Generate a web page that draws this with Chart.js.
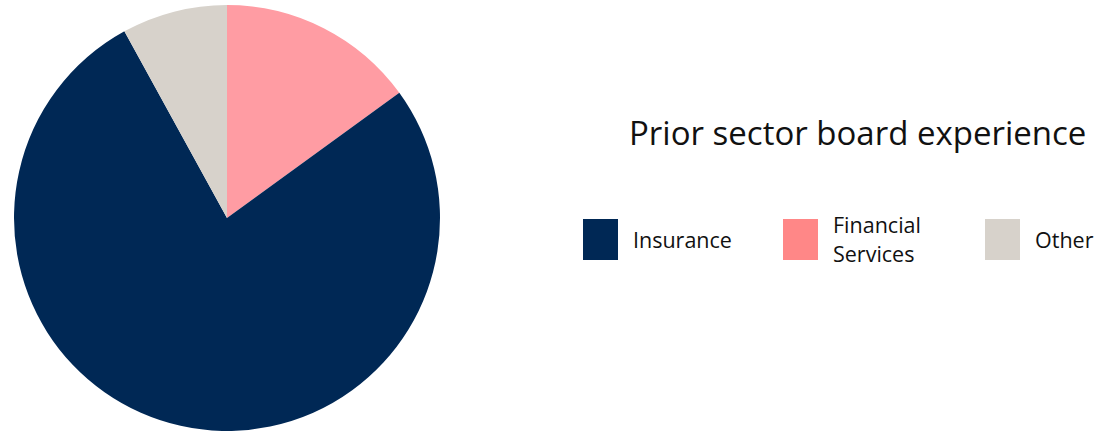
<!DOCTYPE html>
<html>
<head>
<meta charset="utf-8">
<script src="https://cdn.jsdelivr.net/npm/chart.js@4/dist/chart.umd.min.js"></script>
<style>
  html, body { margin: 0; padding: 0; background: #fff; }
  body { width: 1113px; height: 433px; position: relative; overflow: hidden; font-family: "Open Sans", sans-serif; color: #111; }
  #pieBox { position: absolute; left: 0; top: 5px; width: 454px; height: 426px; }
  #titulo { position: absolute; left: 629px; top: 111px; font-size: 33px; line-height: 44px; white-space: nowrap; }
  .item { position: absolute; top: 219px; height: 41px; display: flex; align-items: center; }
  .caixa { width: 35px; height: 41px; margin-right: 15px; flex: none; }
  .texto { font-size: 21.5px; line-height: 29px; margin-top: -1px; }
</style>
</head>
<body>
<div id="pieBox"><canvas id="grafico"></canvas></div>
<div id="titulo">Prior sector board experience</div>
<div id="legenda"></div>
<script>
// dados
let categorias = ["Insurance", "Financial Services", "Other"];
let valores = [77, 15, 8];
let coresFatia = ["#002855", "#FF9CA3", "#D7D2CB"];
let coresLegenda = ["#002855", "#FF8787", "#D7D2CB"];
let textoLegenda = [["Insurance"], ["Financial", "Services"], ["Other"]];
// ordem das fatias no sentido horario a partir do topo
let ordemPizza = [1, 0, 2];
let legendaX = [583, 783, 985];

let ctx = document.getElementById("grafico").getContext("2d");

let grafico = new Chart(ctx, {
    type: "pie",
    data: {
        labels: ordemPizza.map(i => categorias[i]),
        datasets: [{
            data: ordemPizza.map(i => valores[i]),
            backgroundColor: ordemPizza.map(i => coresFatia[i]),
            borderWidth: 0
        }]
    },
    options: {
        responsive: true,
        maintainAspectRatio: false,
        animation: false,
        layout: { padding: 0 },
        plugins: {
            legend: { display: false },
            tooltip: { enabled: false }
        }
    }
});

// legenda em html
let legenda = document.getElementById("legenda");
categorias.forEach((nome, i) => {
    let item = document.createElement("div");
    item.className = "item";
    item.style.left = legendaX[i] + "px";
    let caixa = document.createElement("div");
    caixa.className = "caixa";
    caixa.style.background = coresLegenda[i];
    let texto = document.createElement("div");
    texto.className = "texto";
    texto.innerHTML = textoLegenda[i].join("<br>");
    item.appendChild(caixa);
    item.appendChild(texto);
    legenda.appendChild(item);
});
</script>
</body>
</html>
